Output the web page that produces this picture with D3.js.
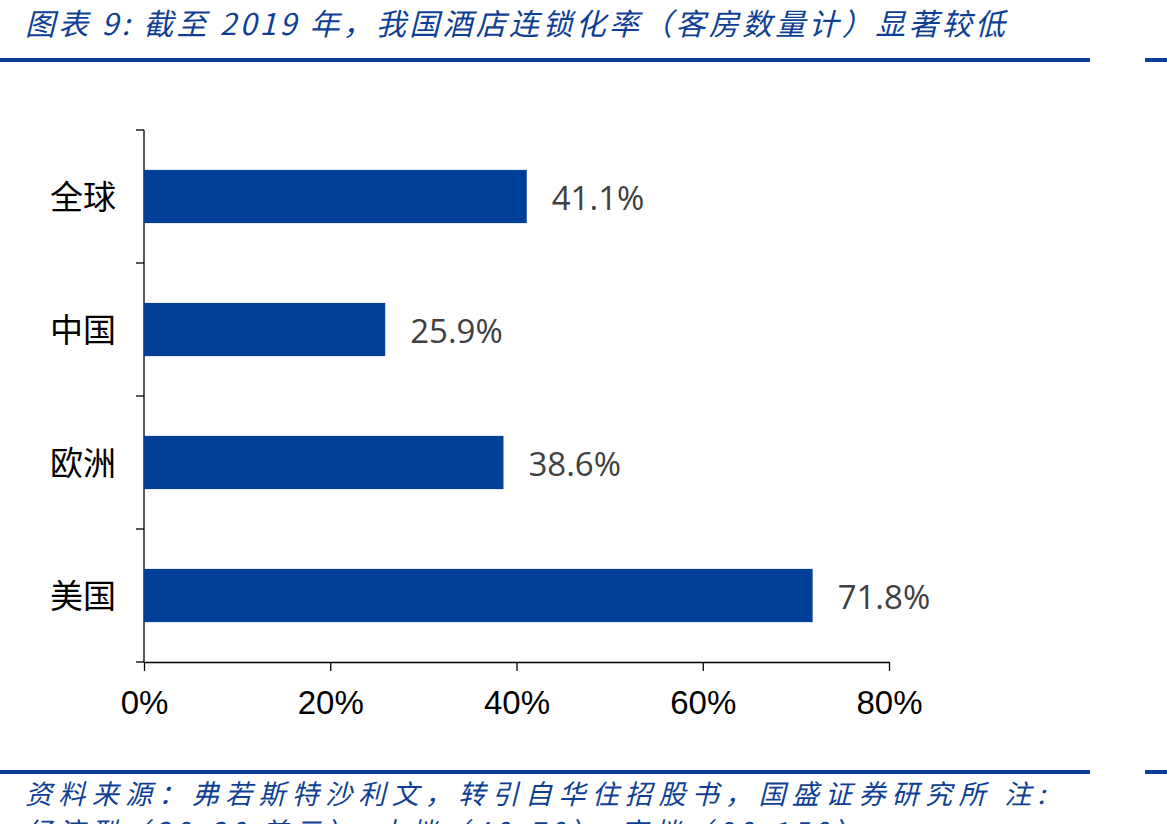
<!DOCTYPE html>
<html lang="zh">
<head>
    <meta charset="UTF-8">
    <title>酒店连锁化率</title>
    <script src="https://d3js.org/d3.v7.min.js"></script>
    <style>
        body { margin: 0; background: #fff; }
        .title, .note {
            font-family: 'Noto Sans CJK SC', sans-serif;
            font-style: italic;
            fill: #0e3f94;
        }
        .cat { font-family: 'Noto Sans CJK SC', sans-serif; }
        .val { font-family: 'Open Sans', sans-serif; }
        .x-axis text { font-family: 'Liberation Sans Narrow', 'Liberation Sans', sans-serif; }
    </style>
</head>
<body>
<script>
    const width  = 1167;
    const height = 824;

    const regions = ['全球', '中国', '欧洲', '美国'];
    const rates   = [0.411, 0.259, 0.386, 0.718];
    const xTicks  = [0, 0.2, 0.4, 0.6, 0.8];

    const titleText = '图表 9:  截至 2019 年，我国酒店连锁化率（客房数量计）显著较低';
    const noteLines = [
        '资料来源：弗若斯特沙利文，转引自华住招股书，国盛证券研究所 注:',
        '经济型（30-30 美元）、中档（40-70）、高档（80-150）'
    ];
    const noteWidths = [1020, 835];

    const svg = d3.select('body')
            .append('svg')
            .attr('width', width)
            .attr('height', height);

    // header
    svg.append('text').attr('class', 'title')
        .attr('x', 25).attr('y', 35)
        .attr('textLength', 980)
        .attr('lengthAdjust', 'spacing')
        .style('font-size', '30px')
        .text(titleText);
    svg.append('rect').attr('x', 0).attr('y', 58).attr('width', 1090).attr('height', 4).style('fill', '#0e3f94');
    svg.append('rect').attr('x', 1145).attr('y', 58).attr('width', 22).attr('height', 4).style('fill', '#0e3f94');

    // footer
    svg.append('rect').attr('x', 0).attr('y', 770).attr('width', 1090).attr('height', 4).style('fill', '#0e3f94');
    svg.append('rect').attr('x', 1145).attr('y', 770).attr('width', 22).attr('height', 4).style('fill', '#0e3f94');
    svg.selectAll('.note')
        .data(noteLines)
        .enter().append('text').attr('class', 'note')
        .attr('x', 25)
        .attr('y', (d, i) => 804 + i * 38)
        .attr('textLength', (d, i) => noteWidths[i])
        .attr('lengthAdjust', 'spacing')
        .style('font-size', '27px')
        .text(d => d);

    const x = d3.scaleLinear()
            .domain([0, 0.8])
            .range([144, 889]);

    const y = d3.scaleBand()
            .domain(regions)
            .range([130, 662])
            .paddingInner(0.6)
            .paddingOuter(0.3);

    // y axis line with ticks between categories
    const step = y.step();
    const bounds = d3.range(regions.length + 1).map(i => 130 + i * step);
    svg.append('line')
        .attr('x1', x(0)).attr('x2', x(0))
        .attr('y1', 130).attr('y2', 662)
        .style('stroke', '#000').style('stroke-width', 1.3);
    svg.selectAll('.ytick')
        .data(bounds)
        .enter().append('line').attr('class', 'ytick')
        .attr('x1', x(0) - 8).attr('x2', x(0))
        .attr('y1', d => d).attr('y2', d => d)
        .style('stroke', '#000').style('stroke-width', 1.3);

    // x axis
    const xAxis = svg.append('g')
            .attr('class', 'x-axis')
            .attr('transform', 'translate(0,662)')
            .call(d3.axisBottom(x)
                .tickValues(xTicks)
                .tickSize(9)
                .tickSizeOuter(0)
                .tickPadding(20)
                .tickFormat(d3.format('.0%')));
    xAxis.select('.domain').style('stroke-width', 1.3);
    xAxis.selectAll('.tick line').style('stroke-width', 1.3);
    xAxis.selectAll('text')
        .style('font-size', '33px')
        .style('fill', '#000');

    // bars
    svg.selectAll('.bar')
        .data(rates)
        .enter().append('rect').attr('class', 'bar')
        .attr('x', x(0))
        .attr('y', (d, i) => y(regions[i]))
        .attr('width', d => x(d) - x(0))
        .attr('height', y.bandwidth())
        .style('fill', '#003f98');

    // value labels
    svg.selectAll('.val')
        .data(rates)
        .enter().append('text').attr('class', 'val')
        .attr('x', d => x(d) + 25)
        .attr('y', (d, i) => y(regions[i]) + y.bandwidth() / 2 + 13)
        .style('font-size', '33px')
        .style('fill', '#404040')
        .text(d => d3.format('.1%')(d));

    // category labels
    svg.selectAll('.cat')
        .data(regions)
        .enter().append('text').attr('class', 'cat')
        .attr('x', 116)
        .attr('y', d => y(d) + y.bandwidth() / 2 + 12)
        .attr('text-anchor', 'end')
        .style('font-size', '33px')
        .style('fill', '#000')
        .text(d => d);
</script>
</body>
</html>
